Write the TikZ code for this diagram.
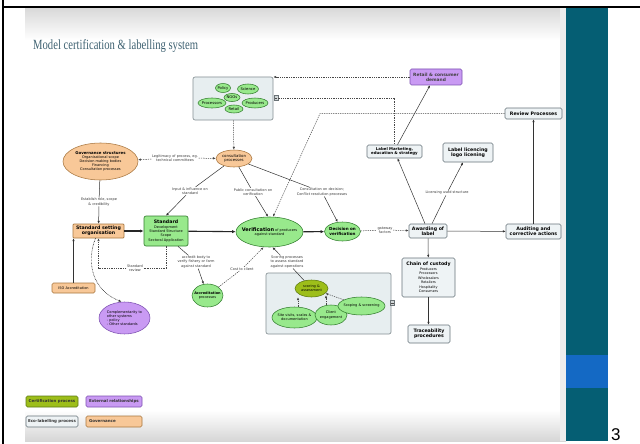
\documentclass[tikz,border=0pt]{standalone}
\usepackage{graphicx}
\usepackage{fontspec}
\setmainfont{Liberation Serif}
\newfontfamily\dvs{DejaVu Sans}
\newfontfamily\numfont{Liberation Sans}
\usetikzlibrary{arrows.meta,shapes.geometric}

\definecolor{barTeal}{HTML}{055E73}
\definecolor{barBlue}{HTML}{1469C4}
\definecolor{titleCol}{HTML}{3F6272}
\definecolor{grnF}{HTML}{98E98C}
\definecolor{grnD}{HTML}{347E30}
\definecolor{olvF}{HTML}{9DBE1A}
\definecolor{olvD}{HTML}{5E7A14}
\definecolor{ornF}{HTML}{F8C898}
\definecolor{ornD}{HTML}{A8763F}
\definecolor{purF}{HTML}{C99AF3}
\definecolor{purD}{HTML}{7E52B2}
\definecolor{grpF}{HTML}{E7EEF0}
\definecolor{grpD}{HTML}{848F93}
\definecolor{ecoF}{HTML}{EEF3F5}
\definecolor{ecoD}{HTML}{66737A}
\definecolor{lnk}{HTML}{333333}

% text sizes used in the map
\newcommand\szA{\fontsize{3.5}{4.2}\selectfont}
\newcommand\szB{\fontsize{4.7}{5.4}\selectfont}
\newcommand\szE{\fontsize{3.9}{4.5}\selectfont}

\begin{document}
\begin{tikzpicture}[x=1pt,y=-1pt,
  every node/.style={font=\dvs\szA, inner sep=0.5pt, align=center},
  box/.style={rectangle, rounded corners=1.5pt, line width=0.65pt},
  ecobox/.style={box, draw=ecoD, fill=ecoF, font=\dvs\bfseries\szB},
  grpbox/.style={rectangle, rounded corners=2pt, draw=grpD, fill=grpF, line width=0.65pt},
  ell/.style={ellipse, line width=0.55pt, inner sep=-8pt},
  gell/.style={ell, draw=grnD, fill=grnF},
  oell/.style={ell, draw=ornD, fill=ornF},
  pell/.style={ell, draw=purD, fill=purF},
  vell/.style={ell, draw=olvD, fill=olvF},
  lbl/.style={text=black!78},
  ln/.style={draw=lnk, line width=0.5pt},
  dsh/.style={draw=lnk!90, line width=0.5pt, dash pattern=on 1.3pt off 1pt},
  dotline/.style={draw=lnk, line width=0.6pt, dash pattern=on 0.7pt off 0.8pt},
  thk/.style={draw=black!85, line width=1.1pt, -{Latex[length=3.6pt,width=3.2pt]}},
  arr/.style={-{Latex[length=2.8pt,width=2.4pt]}},
  icon/.style={rectangle, draw=grpD!80!black, fill=grpF!80!gray, minimum width=4pt, minimum height=5pt, inner sep=0pt, line width=0.4pt},
  legbox/.style={box, minimum width=52pt, minimum height=11pt, font=\dvs\bfseries\fontsize{4}{4.5}\selectfont, text=black!80},
]
\useasboundingbox (0,0) rectangle (640,444);
\fill[white] (0,0) rectangle (640,444);

% slide background and side bar
\fill[white] (25,8) rectangle (566,441);
\shade[top color=black!15, bottom color=white] (25,8) rectangle (566,40);
\shade[top color=white, bottom color=black!16] (25,410) rectangle (566,441);
\fill[black!7] (560,8) rectangle (566,441);
\fill[barTeal] (566,8) rectangle (608,441);
\fill[barBlue] (566,355) rectangle (608,388);
\draw[line width=1.3pt] (3,0) -- (3,444);
\draw[line width=1.3pt] (3,7) -- (640,7);
\node[font=\numfont\fontsize{17}{17}\selectfont, anchor=base west, inner sep=0] (pg) at (611,440) {3};

% title
\node[font=\fontsize{14}{14}\selectfont, text=titleCol, anchor=base west, inner sep=0] (ttl) at (33,50)
  {\scalebox{0.76}[1]{Model certification \& labelling system}};

% stakeholder group
\node[grpbox, minimum width=80pt, minimum height=43pt] (stk) at (233,98.5) {};
\node[icon] (ico1) at (276,98) {};
\draw[black!70, line width=0.4pt] ([xshift=-1.1pt]ico1.center) -- ([xshift=1.1pt]ico1.center);
\begin{scope}[every node/.append style={font=\dvs\fontsize{3.8}{4.3}\selectfont}]
\node[gell, minimum width=15pt, minimum height=9pt] (policy) at (223,88) {Policy};
\node[gell, minimum width=21pt, minimum height=10pt] (science) at (248,89) {Science};
\node[gell, minimum width=28pt, minimum height=10pt] (procs) at (212,103) {Processors};
\node[gell, minimum width=26pt, minimum height=10pt] (prods) at (255,103) {Producers};
\node[gell, minimum width=16pt, minimum height=8pt] (ngos) at (232,97.5) {NGOs};
\node[gell, minimum width=18pt, minimum height=8pt] (retail) at (234,109) {Retail};
\end{scope}

% eco-labelling process
\node[box, draw=purD, fill=purF, minimum width=52pt, minimum height=16pt, font=\dvs\bfseries\fontsize{4.4}{5}\selectfont, text=black!75] (rcd) at (436,77) {Retail \& consumer\\demand};
\node[ecobox, minimum width=57pt, minimum height=11pt] (rev) at (533.5,113.5) {Review Processes};
\node[ecobox, minimum width=55pt, minimum height=13pt, font=\dvs\bfseries\szE] (lm) at (394.5,151.5) {Label Marketing,\\education \& strategy};
\node[ecobox, minimum width=50pt, minimum height=19pt] (llic) at (468,152.5) {Label licencing\\logo licening};
\node[ecobox, minimum width=38pt, minimum height=14pt] (award) at (428,231) {Awarding of\\label};
\node[ecobox, minimum width=55pt, minimum height=15pt] (audit) at (533.5,231.5) {Auditing and\\corrective actions};
\node[ecobox, minimum width=53pt, minimum height=39pt, font=\dvs\fontsize{3.4}{4.5}\selectfont] (chain) at (428.5,277.5)
  {{\bfseries\szB Chain of custody}\\Producers\\Processors\\Wholesalers\\Retailers\\Hospitality\\Consumers};
\node[ecobox, minimum width=42pt, minimum height=18pt] (trace) at (429,334) {Traceability\\procedures};

% governance
\node[oell, minimum width=75pt, minimum height=37pt] (gov) at (100.5,161.5)
  {{\bfseries\fontsize{3.9}{4.6}\selectfont Governance structures}\\Organisational scope\\Decision making bodies\\Financing\\Consultation processes};
\node[oell, minimum width=36pt, minimum height=17pt, font=\dvs\fontsize{3.9}{4.5}\selectfont] (cons) at (234,158.5) {consultation\\processes};
\node[rectangle, rounded corners=0.8pt, draw=ornD, fill=ornF, line width=0.65pt, minimum width=51pt, minimum height=14pt, font=\dvs\bfseries\szB] (sso) at (98.5,231) {Standard setting\\organisation};
\node[box, draw=ornD, fill=ornF, minimum width=43pt, minimum height=10pt] (iso) at (73.5,288) {ISO Accreditation};

% certification process
\node[box, rounded corners=2pt, draw=grnD, fill=grnF, minimum width=44pt, minimum height=30pt, font=\dvs\fontsize{3.5}{4.3}\selectfont] (std) at (166,231)
  {{\bfseries\szB Standard}\\Development\\Standard Structure\\Scope\\Sectoral Application};
\node[gell, minimum width=67pt, minimum height=30pt] (verif) at (269.5,232)
  {{\bfseries\fontsize{5}{5.6}\selectfont Verification} of producers\\against standard};
\node[gell, minimum width=36pt, minimum height=19pt, font=\dvs\bfseries\fontsize{4.1}{4.8}\selectfont] (dec) at (342.5,231.5) {Decision on\\verification};
\node[gell, minimum width=31pt, minimum height=23pt] (accr) at (207.5,295.5) {{\bfseries Accreditation}\\processes};

% external relationships
\node[pell, minimum width=51pt, minimum height=32pt, align=left] (comp) at (124.5,318)
  {Complementarity to\\other systems\\- policy\\- Other standards};

% scoring group
\node[grpbox, minimum width=125pt, minimum height=61pt] (sgrp) at (328.5,303.5) {};
\node[icon] (ico2) at (392.5,303) {};
\draw[black!70, line width=0.4pt] ([xshift=-1.1pt]ico2.center) -- ([xshift=1.1pt]ico2.center);
\node[vell, minimum width=33pt, minimum height=17pt] (scor) at (311.5,288.5) {scoring \&\\assessment};
\node[gell, minimum width=45pt, minimum height=21pt] (site) at (294.5,317.5) {Site visits, scales \&\\documentation};
\node[gell, minimum width=32pt, minimum height=20pt] (client) at (331,315) {Client\\engagement};
\node[gell, minimum width=47pt, minimum height=18pt] (scop) at (361.5,306) {Scoping \& screening};

% linking phrases
\node[lbl] (l_leg) at (175,158) {Legitimacy of process, eg.\\technical committees};
\node[lbl] (l_inp) at (190,191) {Input \& influence on\\standard};
\node[lbl] (l_pub) at (253,192) {Public consultation on\\verification};
\node[lbl] (l_dec) at (322,192) {Consultation on decision;\\Conflict resolution processes};
\node[lbl] (l_est) at (99,202) {Establish role, scope\\\& credibility};
\node[lbl] (l_rev) at (135,268) {Standard\\review};
\node[lbl] (l_acc) at (196,262) {accredit body to\\verify fishery or farm\\against standard};
\node[lbl] (l_cost) at (242,269) {Cost to client};
\node[lbl] (l_sco) at (287,262) {Scoring processes\\to assess standard\\against operations};
\node[lbl] (l_gate) at (385,230) {gateway\\factors};
\node[lbl] (l_lic) at (447,193) {Licensing used structure};

% connectors
\coordinate (bend1) at (320,113.5);
\draw[dsh,arr] (rcd.west) -- (rcd.west -| stk.east);
\draw[dsh] (ico1.east) -| (lm.north);
\draw[dsh,arr] (rev.west) -- (bend1) -- ([xshift=3.5pt]verif.north);
\draw[dsh,arr] (stk) -- (cons);

\draw[dsh,arr] (l_leg) -- (gov);
\draw[dsh,arr] (l_leg) -- (cons);
\draw[ln] (cons) -- (l_inp);
\draw[ln,arr] (l_inp) -- (std.north);
\draw[ln] (cons) -- (l_pub);
\draw[ln,arr] (l_pub) -- ([xshift=-1.5pt]verif.north);
\draw[ln] (cons) -- (l_dec);
\draw[ln,arr] (l_dec) -- (dec);

\draw[ln] (gov) -- (l_est);
\draw[ln,arr] (l_est) -- (sso);
\draw[ln,arr] (iso.north) -- (sso.south -| iso.north);
\draw[dotline,arr] ([xshift=-3pt]sso.south) .. controls (86,262) and (92,290) .. ([xshift=-3pt]comp.north);
\draw[dsh] (std.south) |- (l_rev);
\draw[dsh,arr] (l_rev) -| (sso.south);

\draw[thk] (sso) -- (std);
\draw[thk] (std) -- (verif);
\draw[thk] (verif) -- (dec);

\draw[ln] ([xshift=12pt]std.south) -- (l_acc);
\draw[ln,arr] (l_acc) -- (accr);
\draw[dsh] (accr) -- (l_cost);
\draw[dsh,arr] (l_cost) -- ([xshift=-6pt]verif.south);
\draw[ln] (scor) -- (l_sco);
\draw[ln,arr] (l_sco) -- ([xshift=3pt]verif.south);

\draw[dsh,arr] ([xshift=3.5pt]site.north) -- ([xshift=3.5pt]site.north |- scor.south);
\draw[dsh,arr] ([xshift=-5pt]client.north) -- ++(0,-9.5);
\draw[dsh,arr] (scop) -- (scor);

\draw[dsh] (dec) -- (l_gate);
\draw[dsh,arr] (l_gate) -- (award);
\draw[ln] ([xshift=4pt]award.north) -- (l_lic);
\draw[ln,arr] (l_lic) -- ([xshift=-5pt]llic.south);
\draw[ln,arr] ([xshift=-3pt]award.north) -- ([xshift=3pt]lm.south);
\draw[ln,arr] ([xshift=3pt]lm.north) -- ([xshift=-6pt]rcd.south);
\draw[ln,arr] (award) -- (audit);
\draw[ln,arr] (audit) -- (rev);
\draw[ln,arr] (award) -- (chain);
\draw[ln,arr] (chain.south) -- (chain.south |- trace.north);

% legend
\node[legbox, draw=olvD, fill=olvF] (lg1) at (52,401.5) {Certification process};
\node[legbox, draw=purD, fill=purF, minimum width=56pt] (lg2) at (114,401.5) {External relationships};
\node[legbox, draw=ecoD, fill=ecoF] (lg3) at (52,421.5) {Eco-labelling process};
\node[legbox, draw=ornD, fill=ornF, minimum width=56pt, text width=50pt, align=left] (lg4) at (114,421.5) {Governance};
\end{tikzpicture}
\end{document}
